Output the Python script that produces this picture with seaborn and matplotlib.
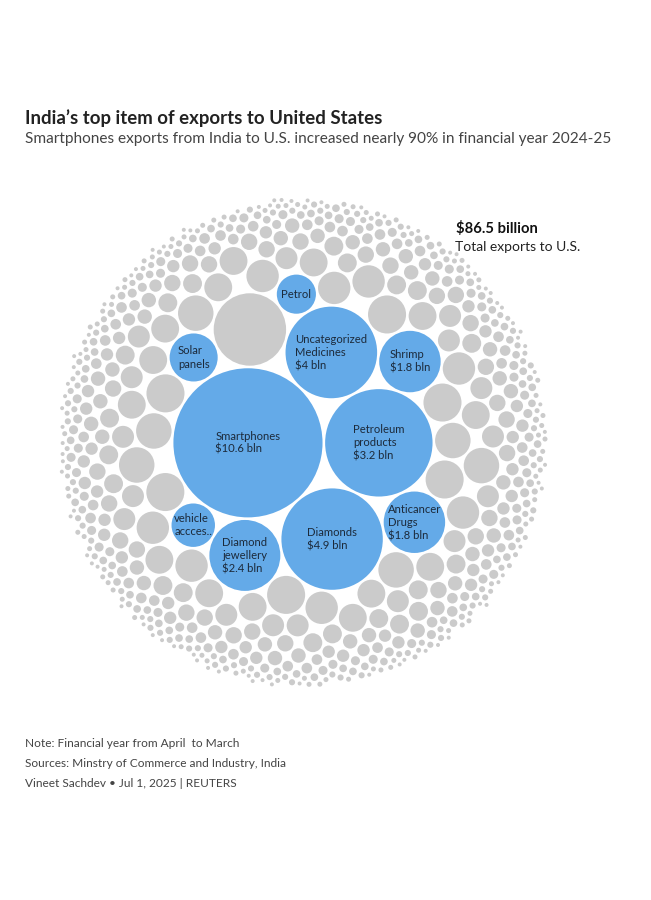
import math
import numpy as np
import pandas as pd
import matplotlib.pyplot as plt
import seaborn as sns

# ---------- data: India's exports to the U.S., FY 2024-25 (US$ bln) ----------
# named items, largest first (bubble size)
highlight_labels = ["Smartphones\n$10.6 bln", "Petroleum\nproducts\n$3.2 bln", "Diamonds\n$4.9 bln",
                    "Uncategorized\nMedicines\n$4 bln", "Diamond\njewellery\n$2.4 bln", "Shrimp\n$1.8 bln",
                    "Anticancer\nDrugs\n$1.8 bln", "Solar\npanels", "vehicle\naccces..", "Petrol"]
highlight_values = [10.6, 5.5, 4.9, 4.0, 2.4, 1.8, 1.8, 1.1, 0.9, 0.73]

# all the other (unnamed) items, as value tiers and how many items sit in each tier
other_values = [2.5, 0.69, 0.6, 0.5, 0.37, 0.23, 0.17, 0.128, 0.099, 0.073,
                0.054, 0.039, 0.028, 0.018, 0.012, 0.0076]
other_counts = [1, 6, 6, 8, 14, 16, 20, 28, 32, 38, 44, 56, 70, 80, 100, 80]

total_value = "$86.5 billion"
total_text = "Total exports to U.S."

title = "India\u2019s top item of exports to United States"
subtitle = "Smartphones exports from India to U.S. increased nearly 90% in financial year 2024-25"
notes = ["Note: Financial year from April  to March",
         "Sources: Minstry of Commerce and Industry, India",
         "Vineet Sachdev \u2022 Jul 1, 2025 | REUTERS"]

BLUE = "#64aae8"
GREY = "#cbcbcb"


# ---------- front-chain circle packing (same idea as d3.packSiblings) ----------
def place(b, a, c):
    dx, dy = b[0] - a[0], b[1] - a[1]
    d2 = dx * dx + dy * dy
    if d2:
        a2 = (a[2] + c[2]) ** 2
        b2 = (b[2] + c[2]) ** 2
        if a2 > b2:
            x = (d2 + b2 - a2) / (2 * d2)
            y = math.sqrt(max(0, b2 / d2 - x * x))
            c[0] = b[0] - x * dx - y * dy
            c[1] = b[1] - x * dy + y * dx
        else:
            x = (d2 + a2 - b2) / (2 * d2)
            y = math.sqrt(max(0, a2 / d2 - x * x))
            c[0] = a[0] + x * dx - y * dy
            c[1] = a[1] + x * dy + y * dx
    else:
        c[0] = a[0] + c[2]
        c[1] = a[1]


def intersects(a, b):
    dr = a[2] + b[2] - 1e-6
    dx, dy = b[0] - a[0], b[1] - a[1]
    return dr > 0 and dr * dr > dx * dx + dy * dy


def pack(radii):
    C = [[0.0, 0.0, r] for r in radii]
    n = len(C)
    C[0][0] = -C[1][2]
    C[1][0] = C[0][2]
    place(C[1], C[0], C[2])
    nxt = {0: 1, 1: 2, 2: 0}
    prv = {1: 0, 2: 1, 0: 2}

    def score(i):
        a, b = C[i], C[nxt[i]]
        ab = a[2] + b[2]
        dx = (a[0] * b[2] + b[0] * a[2]) / ab
        dy = (a[1] * b[2] + b[1] * a[2]) / ab
        return dx * dx + dy * dy

    a, b = 0, 1
    i = 3
    while i < n:
        c = i
        place(C[a], C[b], C[c])
        j, k = nxt[b], prv[a]
        sj, sk = C[b][2], C[a][2]
        restart = False
        while True:
            if sj <= sk:
                if intersects(C[j], C[c]):
                    b = j
                    nxt[a], prv[b] = b, a
                    restart = True
                    break
                sj += C[j][2]
                j = nxt[j]
            else:
                if intersects(C[k], C[c]):
                    a = k
                    nxt[a], prv[b] = b, a
                    restart = True
                    break
                sk += C[k][2]
                k = prv[k]
            if j == nxt[k]:
                break
        if restart:
            continue
        prv[c], nxt[c] = a, b
        nxt[a] = c
        prv[b] = c
        b = c
        aa = score(a)
        node = c
        while True:
            node = nxt[node]
            if node == b:
                break
            ca = score(node)
            if ca < aa:
                a, aa = node, ca
        b = nxt[a]
        i += 1
    return np.array([[p[0], p[1]] for p in C])


def enclose(xy, rr, iters=4000):
    c = xy.mean(axis=0)
    for t in range(1, iters):
        d = np.hypot(*(xy - c).T)
        far = (d + rr).argmax()
        u = (xy[far] - c) / max(d[far], 1e-9)
        p = xy[far] + u * rr[far]
        c = c + (p - c) / (t + 1)
    return c


# ---------- build table ----------
n_other = sum(other_counts)
items = pd.DataFrame({
    "value": highlight_values + list(np.repeat(other_values, other_counts)),
    "label": highlight_labels + [""] * n_other,
    "kind": ["named"] * len(highlight_values) + ["other"] * n_other,
})
items = items.sort_values("value", ascending=False, kind="stable").reset_index(drop=True)

px_per_unit = 22.9   # bubble radius in px for sqrt(value in bln)
pad = 1.3
items["r"] = px_per_unit * np.sqrt(items["value"])
xy = pack((items["r"] + pad).tolist())
ctr = enclose(xy, items["r"].values + pad)
items["x"] = xy[:, 0] - ctr[0] + 303
items["y"] = xy[:, 1] - ctr[1] + 443
items["s"] = (2 * items["r"] * 0.72) ** 2

# ---------- draw ----------
sns.set_theme(style="white")
plt.rcParams["font.family"] = ["Lato", "DejaVu Sans"]

fig = plt.figure(figsize=(6.51, 9.0), dpi=100)
ax = fig.add_axes([0, 0, 1, 1])
sns.scatterplot(data=items, x="x", y="y", hue="kind", palette={"named": BLUE, "other": GREY},
                s=items["s"].values, linewidth=0, legend=False, ax=ax)
ax.set_xlim(0, 651)
ax.set_ylim(900, 0)
ax.axis("off")

for _, row in items[items["label"] != ""].iterrows():
    ax.text(row["x"], row["y"], row["label"], ha="center", va="center", multialignment="left",
            fontsize=8.1, color="#1c2a3a", linespacing=1.25)

fig.text(25 / 651, 1 - 124 / 900, title, fontsize=13.4, fontweight="bold", color="#222222", va="baseline")
fig.text(25 / 651, 1 - 143 / 900, subtitle, fontsize=11.1, color="#444444", va="baseline")

fig.text(456 / 651, 1 - 233 / 900, total_value, fontsize=10.6, fontweight="bold", color="#111111", va="baseline")
fig.text(455 / 651, 1 - 251 / 900, total_text, fontsize=10.0, color="#222222", va="baseline")

for k, line in enumerate(notes):
    fig.text(25 / 651, 1 - (747 + 20 * k) / 900, line, fontsize=8.6, color="#444444", va="baseline")

fig.savefig("out.png", dpi=100, facecolor="white")
